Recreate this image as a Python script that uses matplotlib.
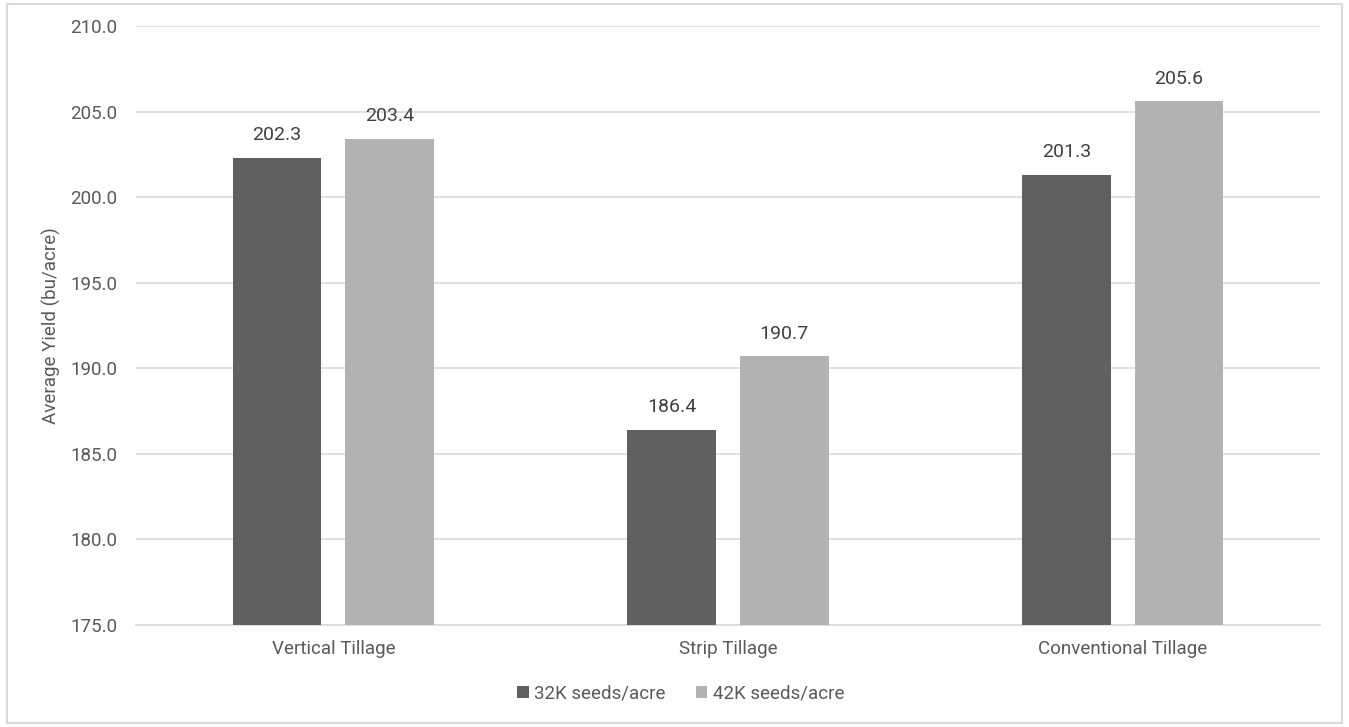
import numpy as np
import matplotlib
matplotlib.use("Agg")
from matplotlib import pyplot as plt
from matplotlib.patches import Rectangle

categories = ["Vertical Tillage", "Strip Tillage", "Conventional Tillage"]
series_names = ["32K seeds/acre", "42K seeds/acre"]
yield_32k = [202.3, 186.4, 201.3]
yield_42k = [203.4, 190.7, 205.6]

plt.rcParams['font.family'] = ['Roboto', 'DejaVu Sans']
text_color = '#595959'

fig = plt.figure(figsize=(13.49, 7.27), dpi=100)
ax = fig.add_axes([0.1008, 0.1403, 0.8777, 0.8239])

x = np.arange(len(categories))
w = 0.225
off = 0.1425
b1 = ax.bar(x - off, np.array(yield_32k) - 175, w, bottom=175, color='#606060', label=series_names[0], zorder=3)
b2 = ax.bar(x + off, np.array(yield_42k) - 175, w, bottom=175, color='#b2b2b2', label=series_names[1], zorder=3)

# value labels above bars
for bars, vals in [(b1, yield_32k), (b2, yield_42k)]:
    for r, v in zip(bars, vals):
        ax.text(r.get_x() + r.get_width() / 2, v + 0.8, "%.1f" % v,
                ha='center', va='bottom', fontsize=14, color='#404040')

ax.set_xlim(-0.5, 2.5)
ax.set_ylim(175, 210)
ticks = np.arange(175, 210.1, 5)
ax.set_yticks(ticks)
ax.set_yticklabels(["%.1f" % t for t in ticks])
ax.set_xticks(x)
ax.set_xticklabels(categories)
ax.yaxis.grid(True, color='#d9d9d9', linewidth=1.2, zorder=0)
for s in ['top', 'right', 'left']:
    ax.spines[s].set_visible(False)
ax.spines['bottom'].set_color('#d9d9d9')
ax.spines['bottom'].set_linewidth(1.2)
ax.tick_params(axis='both', length=0, labelsize=13.5, colors=text_color)
ax.tick_params(axis='y', pad=13.5)
ax.tick_params(axis='x', pad=11)
ax.set_ylabel("Average Yield (bu/acre)", fontsize=13.5, color=text_color)
ax.yaxis.set_label_coords(-0.063, 0.5)

ax.legend(loc='center', bbox_to_anchor=(0.46, -0.115), ncol=2, frameon=False,
          fontsize=13.5, handlelength=0.6, handleheight=0.6, handletextpad=0.3,
          columnspacing=1.6, labelcolor=text_color)

fig.patches.append(Rectangle((0.005, 0.005), 0.99, 0.99, transform=fig.transFigure,
                             fill=False, edgecolor='#d9d9d9', linewidth=1.5))

fig.savefig("out.png", dpi=100)
